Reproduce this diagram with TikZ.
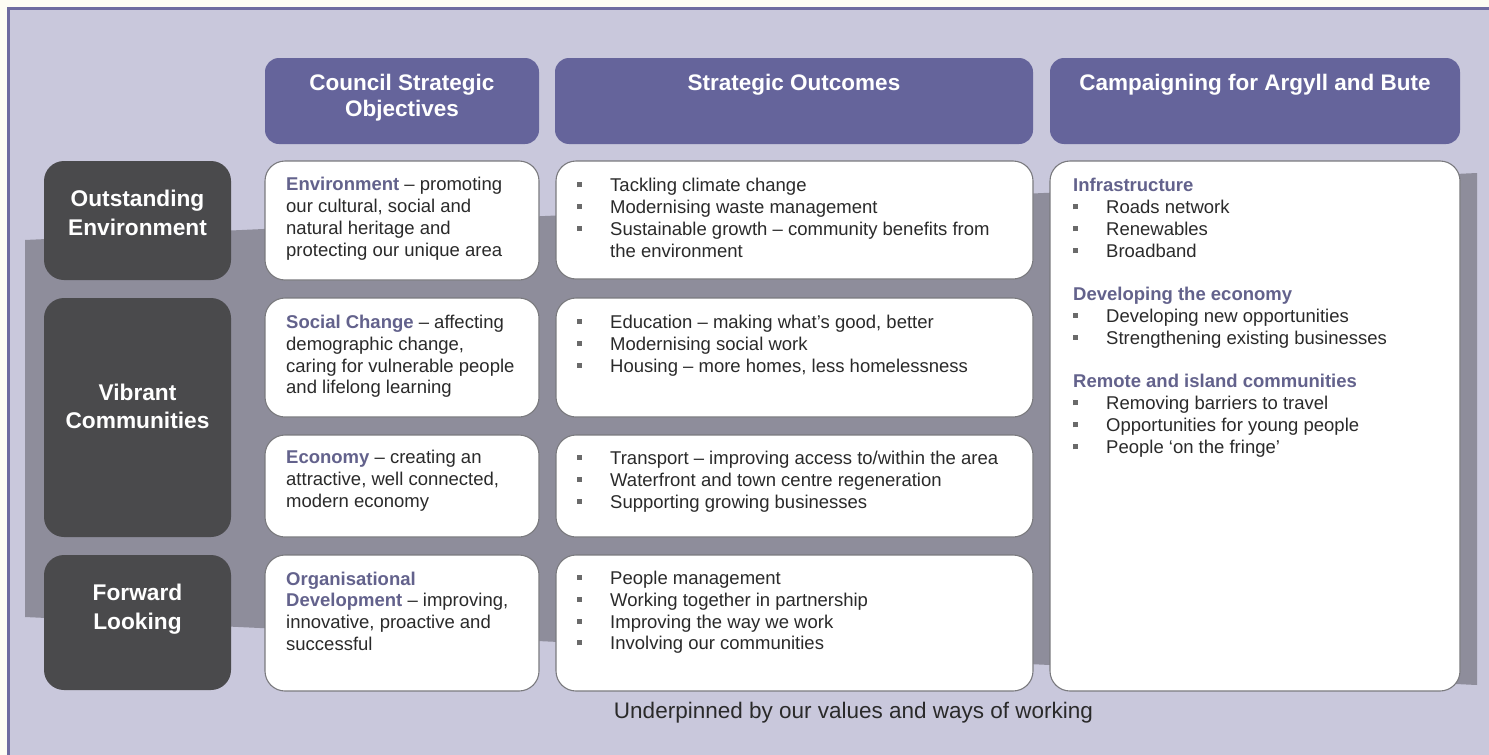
\documentclass[tikz,border=0pt]{standalone}
\usepackage{fontspec}
\setmainfont{Liberation Sans}
\definecolor{cream}{HTML}{FDFDF4}
\definecolor{lav}{HTML}{C9C8DC}
\definecolor{framec}{HTML}{6E6CA0}
\definecolor{band}{HTML}{8E8D9B}
\definecolor{hdrpurple}{HTML}{65649B}
\definecolor{darkbox}{HTML}{4A4A4C}
\definecolor{boxedge}{HTML}{7A7A7E}
\definecolor{bodytext}{HTML}{2A2A2A}
\definecolor{keyword}{HTML}{63628C}
\definecolor{bulletc}{HTML}{6A6A6A}
\newcommand\bx[6]{\node[#2, minimum width={(#5-#3)*1pt}, minimum height={(#6-#4)*1pt}] (#1) at ({(#3+#5)/2},{(#4+#6)/2}) {};}
\newcommand\bl{\makebox[33pt][l]{\textcolor{bulletc}{\rule[4.5pt]{5pt}{5pt}}}}
\newcommand\ind{\hspace*{33pt}}
\newcommand\kw[1]{\textcolor{keyword}{\bfseries #1}}
\begin{document}
\begin{tikzpicture}[x=1pt,y=-1pt,
  hdr/.style={fill=hdrpurple, rounded corners=14pt, inner sep=0pt, outer sep=0pt},
  dark/.style={fill=darkbox, rounded corners=20pt, inner sep=0pt, outer sep=0pt},
  wbox/.style={fill=white, draw=boxedge, line width=1.1pt, rounded corners=20pt, inner sep=0pt, outer sep=0pt},
  body/.style={font=\fontsize{18.5}{21.8}\selectfont, text=bodytext, align=left, inner sep=0pt, anchor=north west},
  body3/.style={font=\fontsize{18.5}{22}\selectfont, text=bodytext, align=left, inner sep=0pt, anchor=north west},
  hdrtext/.style={font=\bfseries\fontsize{22.5}{26.7}\selectfont, text=white, align=center, inner sep=0pt, anchor=north},
  darktext/.style={font=\bfseries\fontsize{22.7}{28.4}\selectfont, text=white, align=center, inner sep=0pt, anchor=north},
  foot/.style={font=\fontsize{22.5}{27}\selectfont, text=bodytext, inner sep=0pt, anchor=base}
]
\useasboundingbox (0,0) rectangle (1489,755);
\fill[cream] (0,0) rectangle (1489,755);
\draw[framec, line width=2.5pt, fill=lav] (8.5,8.5) rectangle (1600,900);
\fill[band] (25,240) -- (1477,173) -- (1477,685) -- (25,617) -- cycle;

% headers
\bx{h1}{hdr}{265}{58}{539}{144}
\bx{h2}{hdr}{555}{58}{1033}{144}
\bx{h3}{hdr}{1050}{58}{1460}{144}
\node[hdrtext] (h1t) at (402,71.3) {\strut Council Strategic\\Objectives};
\node[hdrtext] (h2t) at (794,71.3) {\strut Strategic Outcomes};
\node[hdrtext] (h3t) at (1255,71.3) {\strut Campaigning for Argyll and Bute};

% dark boxes
\bx{d1}{dark}{44}{161}{231}{280}
\bx{d2}{dark}{44}{298}{231}{537}
\bx{d3}{dark}{44}{555}{231}{690}
\node[darktext] (d1t) at (137.5,186.8) {\strut Outstanding\\Environment};
\node[darktext] (d2t) at (137.5,380.1) {\strut Vibrant\\Communities};
\node[darktext] (d3t) at (137.5,580.8) {\strut Forward\\Looking};

% column 1
\bx{a1}{wbox}{265}{161}{539}{280}
\bx{a2}{wbox}{265}{298}{539}{417}
\bx{a3}{wbox}{265}{435}{539}{537}
\bx{a4}{wbox}{265}{555}{539}{691}
\node[body] (a1t) at (286,175.4) {\strut\kw{Environment} – promoting\\our cultural, social and\\natural heritage and\\protecting our unique area};
\node[body] (a2t) at (286,313.0) {\strut\kw{Social Change} – affecting\\demographic change,\\caring for vulnerable people\\and lifelong learning};
\node[body] (a3t) at (286,448.0) {\strut\kw{Economy} – creating an\\attractive, well connected,\\modern economy};
\node[body] (a4t) at (286,569.7) {\strut\kw{Organisational}\\\kw{Development} – improving,\\innovative, proactive and\\successful};

% column 2
\bx{b1}{wbox}{556}{161}{1033}{279}
\bx{b2}{wbox}{556}{298}{1033}{417}
\bx{b3}{wbox}{556}{435}{1033}{537}
\bx{b4}{wbox}{556}{555}{1033}{691}
\node[body] (b1t) at (577,176.4) {\strut\bl Tackling climate change\\\bl Modernising waste management\\\bl Sustainable growth – community benefits from\\\ind the environment};
\node[body] (b2t) at (577,313.0) {\strut\bl Education – making what’s good, better\\\bl Modernising social work\\\bl Housing – more homes, less homelessness};
\node[body] (b3t) at (577,449.0) {\strut\bl Transport – improving access to/within the area\\\bl Waterfront and town centre regeneration\\\bl Supporting growing businesses};
\node[body] (b4t) at (577,569.0) {\strut\bl People management\\\bl Working together in partnership\\\bl Improving the way we work\\\bl Involving our communities};

% column 3
\bx{c1}{wbox}{1050}{161}{1460}{691}
\node[body3] (c1t) at (1073,176.3) {\strut\kw{Infrastructure}\\\bl Roads network\\\bl Renewables\\\bl Broadband};
\node[body3] (c2t) at (1073,284.6) {\strut\kw{Developing the economy}\\\bl Developing new opportunities\\\bl Strengthening existing businesses};
\node[body3] (c3t) at (1073,372.3) {\strut\kw{Remote and island communities}\\\bl Removing barriers to travel\\\bl Opportunities for young people\\\bl People ‘on the fringe’};

% footer
\node[foot] (ft) at (853.5,718) {Underpinned by our values and ways of working};
\end{tikzpicture}
\end{document}
